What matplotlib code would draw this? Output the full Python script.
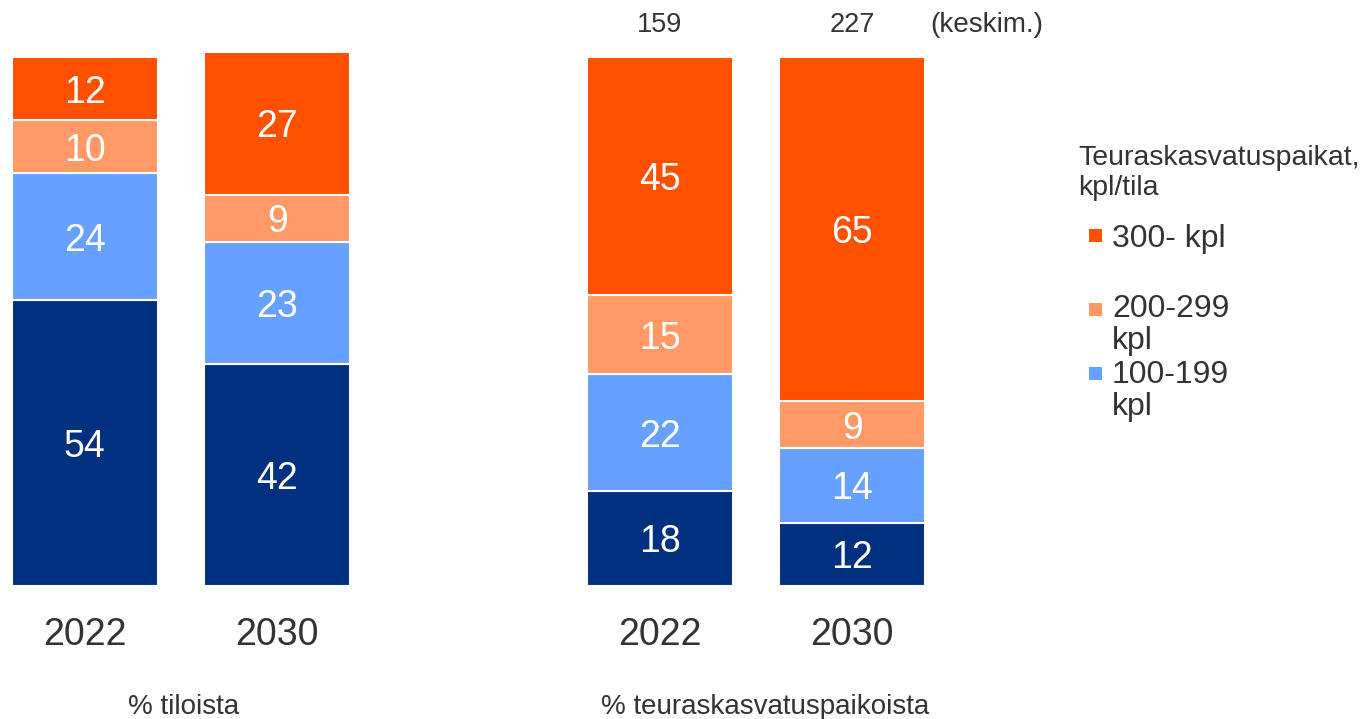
import numpy as np
import matplotlib.pyplot as plt
from matplotlib.patches import Rectangle
from matplotlib.transforms import blended_transform_factory

plt.rcParams['font.family'] = ['Liberation Sans', 'DejaVu Sans']

# data
years = ['2022', '2030']
segments = ['alle 100 kpl', '100-199 kpl', '200-299 kpl', '300- kpl']
farms = {  # % tiloista
    'alle 100 kpl': [54, 42],
    '100-199 kpl': [24, 23],
    '200-299 kpl': [10, 9],
    '300- kpl': [12, 27],
}
places = {  # % teuraskasvatuspaikoista
    'alle 100 kpl': [18, 12],
    '100-199 kpl': [22, 14],
    '200-299 kpl': [15, 9],
    '300- kpl': [45, 65],
}
avg_size = ['159', '227']

colors = {
    'alle 100 kpl': '#00307F',
    '100-199 kpl': '#66A1FF',
    '200-299 kpl': '#FF9966',
    '300- kpl': '#FF5000',
}
txt = '#333333'

W, H = 1363, 719
fig = plt.figure(figsize=(W / 100, H / 100), dpi=100)


def fx(x):
    return x / W


def fy(y):
    return 1 - y / H


def panel(left_px, data):
    bottom = fy(586)
    top = fy(586 - 5.29 * 101)
    ax = fig.add_axes([fx(left_px), bottom, fx(338), top - bottom])
    x = np.arange(len(years))
    base = np.zeros(len(years))
    for seg in segments:
        vals = np.array(data[seg])
        ax.bar(x, vals, 0.757, bottom=base, color=colors[seg],
               edgecolor='white', linewidth=1.5)
        for xi, b, v in zip(x, base, vals):
            ax.text(xi, b + v / 2, str(v), ha='center', va='center_baseline',
                    color='white', fontsize=27)
        base += vals
    ax.set_xlim(-0.3785, 1.3785)
    ax.set_ylim(0, 101)
    ax.set_xticks(x)
    ax.set_xticklabels(years, fontsize=27, color=txt)
    ax.tick_params(axis='x', length=0, pad=22)
    ax.set_yticks([])
    for s in ax.spines.values():
        s.set_visible(False)
    return ax


ax1 = panel(12, farms)
ax2 = panel(587, places)

# averages above right panel
tr = blended_transform_factory(ax2.transData, fig.transFigure)
for xi, lab in enumerate(avg_size):
    ax2.text(xi, fy(32), lab, transform=tr, ha='center', va='baseline',
             fontsize=19.5, color=txt)
fig.text(fx(930), fy(32), '(keskim.)', ha='left', va='baseline',
         fontsize=20, color=txt)

# bottom captions
fig.text(fx(184), fy(714), '% tiloista', ha='center', va='baseline',
         fontsize=20, color=txt)
fig.text(fx(765), fy(714), '% teuraskasvatuspaikoista', ha='center',
         va='baseline', fontsize=20, color=txt)

# legend (drawn by hand, no entry for the navy segment)
fig.text(fx(1078), fy(165), 'Teuraskasvatuspaikat,', ha='left',
         va='baseline', fontsize=20.5, color=txt)
fig.text(fx(1078), fy(195), 'kpl/tila', ha='left', va='baseline',
         fontsize=20.5, color=txt)
legend_items = [('300- kpl', 247, 235), ('200-299\nkpl', 317, 309),
                ('100-199\nkpl', 383, 373)]
for (lab, base_y, mark_y), seg in zip(legend_items,
                                      ['300- kpl', '200-299 kpl', '100-199 kpl']):
    for j, line in enumerate(lab.split('\n')):
        fig.text(fx(1112), fy(base_y + 32 * j), line, ha='left',
                 va='baseline', fontsize=23, color=txt)
    fig.patches.append(Rectangle((fx(1089), fy(mark_y + 7)), fx(13), 13 / H,
                                 transform=fig.transFigure,
                                 facecolor=colors[seg], edgecolor='none'))

fig.savefig('out.png', dpi=100)
